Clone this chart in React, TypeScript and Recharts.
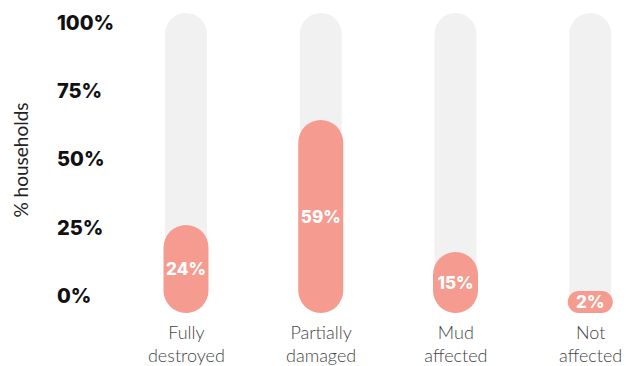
import { BarChart, Bar, XAxis, YAxis, LabelList, Label } from 'recharts';

const categories = ['Fully destroyed', 'Partially damaged', 'Mud affected', 'Not affected'];
const shares = [24, 59, 15, 2];
const yTicks = [0, 25, 50, 75, 100];

const data = categories.map((name, i) => ({ name, value: shares[i] }));

const PILL = '#f59b8f';
const TRACK = '#f1f1f1';
const CAP = 16; // extra height so small values still read as a pill

function PillShape(props: any) {
  const { x, y, width, height } = props;
  const w = width + 3;
  const h = height + CAP;
  return (
    <rect
      x={x - 1.5}
      y={y - CAP}
      width={w}
      height={h}
      rx={Math.min(w, h) / 2}
      ry={Math.min(w, h) / 2}
      fill={PILL}
    />
  );
}

function ValueLabel(props: any) {
  const { x, y, width, height, value } = props;
  const cy = y - CAP + (height + CAP) / 2;
  return (
    <text
      x={x + width / 2}
      y={cy}
      dy={6}
      textAnchor="middle"
      fill="#fff"
      fontFamily="Inter"
      fontWeight={800}
      fontSize={17}
    >
      {value}%
    </text>
  );
}

function YTick(props: any) {
  const { y, payload } = props;
  return (
    <text x={57} y={y} dy={8} textAnchor="start" fill="#111" fontFamily="Inter" fontWeight={800} fontSize={20}>
      {payload.value}%
    </text>
  );
}

function XTick(props: any) {
  const { x, y, payload } = props;
  const words = String(payload.value).split(' ');
  return (
    <text x={x} y={y} textAnchor="middle" fill="#444" fontFamily="Lato" fontWeight={300} fontSize={18}>
      {words.map((w, i) => (
        <tspan key={i} x={x} dy={i === 0 ? 18 : 23}>
          {w}
        </tspan>
      ))}
    </text>
  );
}

export default function App() {
  return (
    <div
      style={{
        position: 'absolute',
        left: 0,
        top: 0,
        width: 626,
        height: 366,
        overflow: 'hidden',
        background: '#fff',
      }}
    >
      <BarChart width={658} height={366} data={data} margin={{ top: 13, right: 0, bottom: 0, left: 0 }}>
        <XAxis dataKey="name" axisLine={false} tickLine={false} height={53} tick={<XTick />} interval={0} />
        <YAxis
          yAxisId="ticks"
          type="number"
          domain={[-6.6, 103.3]}
          ticks={yTicks}
          allowDataOverflow
          axisLine={false}
          tickLine={false}
          width={119}
          tick={<YTick />}
        >
          <Label
            content={() => (
              <text
                transform="translate(28,160) rotate(-90)"
                textAnchor="middle"
                fill="#222"
                fontFamily="Lato"
                fontWeight={400}
                fontSize={19}
              >
                % households
              </text>
            )}
          />
        </YAxis>
        <YAxis yAxisId="bars" hide domain={[0, 100]} />
        <Bar
          yAxisId="bars"
          dataKey="value"
          barSize={42}
          background={{ fill: TRACK, radius: 21 }}
          shape={<PillShape />}
          isAnimationActive={false}
        >
          <LabelList dataKey="value" content={<ValueLabel />} />
        </Bar>
      </BarChart>
    </div>
  );
}
